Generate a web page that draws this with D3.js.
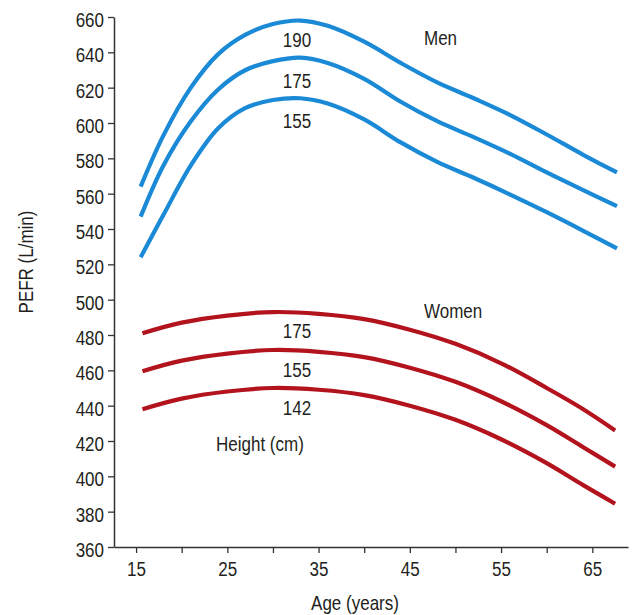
<!DOCTYPE html>
<html>
<head>
<meta charset="utf-8">
<script src="https://cdn.jsdelivr.net/npm/d3@7"></script>
<style>
  html, body { margin: 0; padding: 0; background: #fff; }
  svg { display: block; }
  text { font-family: "Liberation Sans", Arial, sans-serif; fill: #231f20; }
</style>
</head>
<body>
<svg id="chart" width="632" height="615"></svg>
<script>
// ---- Data ----
const menAges = [15.5, 18, 21, 24, 27, 30, 33, 36, 40, 44, 48, 52, 56, 60, 64, 67.7];
const men190  = [564, 593, 620, 639, 650, 656, 658, 655, 646, 634, 623, 614, 604.5, 593.5, 582, 572];
const men175  = [547, 576, 601, 619, 630, 635, 637, 634, 625, 612, 601, 592, 582.5, 572, 562, 553];
const men155  = [524, 548, 576, 597, 608.5, 613, 614, 611, 602, 589, 578, 569, 559.5, 549.5, 539, 529];

const womenAges = [15.7, 20, 25, 30, 35, 40, 45, 50, 55, 60, 64, 67.5];
const women175  = [481, 487, 491, 493, 492, 489, 483, 475, 464, 450, 438, 426];
const women155  = [459.5, 465.5, 469.5, 471.5, 470.5, 467.5, 461.5, 453.5, 442.5, 429, 416.5, 405.5];
const women142  = [438, 444, 448, 450, 449, 446, 440, 432, 421, 407.5, 395, 384.5];

const xTicks = [15, 20, 25, 30, 35, 40, 45, 50, 55, 60, 65];
const xTickLabels = [15, 25, 35, 45, 55, 65];
const yTicks = [360, 380, 400, 420, 440, 460, 480, 500, 520, 540, 560, 580, 600, 620, 640, 660];

const menLabels = ["190", "175", "155"];
const womenLabels = ["175", "155", "142"];

// ---- Scales ----
const svg = d3.select("#chart");
const x = d3.scaleLinear().domain([12.58, 68.91]).range([114, 628]);
const y = d3.scaleLinear().domain([360, 660]).range([547, 17]);

const blue = "#1b8ad6";
const red = "#b3131d";
const axisColor = "#333";
const fs = 21;
const sx = 0.81; // horizontal condensation to mimic a narrow face

// ---- Axes ----
const yAxis = svg.append("g")
  .attr("transform", `translate(${x.range()[0]},0)`)
  .call(d3.axisLeft(y).tickValues(yTicks).tickSize(6).tickPadding(4).tickSizeOuter(0));
yAxis.selectAll("text")
  .attr("dy", "0.45em")
  .attr("x", -10 / sx)
  .attr("transform", `scale(${sx},1)`)
  .style("font-size", fs + "px");

const xAxis = svg.append("g")
  .attr("transform", `translate(0,${y.range()[0]})`)
  .call(d3.axisBottom(x).tickValues(xTicks).tickSize(6).tickPadding(8).tickSizeOuter(0)
    .tickFormat(d => xTickLabels.includes(d) ? d : ""));
xAxis.selectAll("text")
  .attr("transform", `scale(${sx},1)`)
  .style("font-size", fs + "px");

[yAxis, xAxis].forEach(g => {
  g.select(".domain").attr("stroke", axisColor).attr("stroke-width", 1.5);
  g.selectAll(".tick line").attr("stroke", axisColor).attr("stroke-width", 1.3);
  g.selectAll("text").attr("fill", "#231f20").attr("font-family", null);
});

// ---- Lines ----
const line = d3.line().x(d => x(d[0])).y(d => y(d[1])).curve(d3.curveCatmullRom.alpha(0.5));

const series = [
  { ages: menAges, vals: men190, color: blue },
  { ages: menAges, vals: men175, color: blue },
  { ages: menAges, vals: men155, color: blue },
  { ages: womenAges, vals: women175, color: red },
  { ages: womenAges, vals: women155, color: red },
  { ages: womenAges, vals: women142, color: red }
];
series.forEach(s => {
  svg.append("path")
    .datum(s.ages.map((a, i) => [a, s.vals[i]]))
    .attr("fill", "none")
    .attr("stroke", s.color)
    .attr("stroke-width", 4.2)
    .attr("d", line);
});

// ---- Annotations ----
function label(txt, px, py, anchor, rot) {
  svg.append("g")
    .attr("transform", `translate(${px},${py})${rot ? " rotate(" + rot + ")" : ""} scale(${sx},1)`)
    .append("text")
    .attr("text-anchor", anchor || "middle")
    .style("font-size", fs + "px").text(txt);
}
const menLabelY = [47, 88, 128];
menLabels.forEach((t, i) => label(t, 297, menLabelY[i]));
const womenLabelY = [338, 377, 415];
womenLabels.forEach((t, i) => label(t, 297, womenLabelY[i]));

label("Men", 424, 45, "start");
label("Women", 424, 318, "start");
label("Height (cm)", 216, 451, "start");
label("Age (years)", 355, 610, "middle");
label("PEFR (L/min)", 33, 262, "middle", -90);
</script>
</body>
</html>
